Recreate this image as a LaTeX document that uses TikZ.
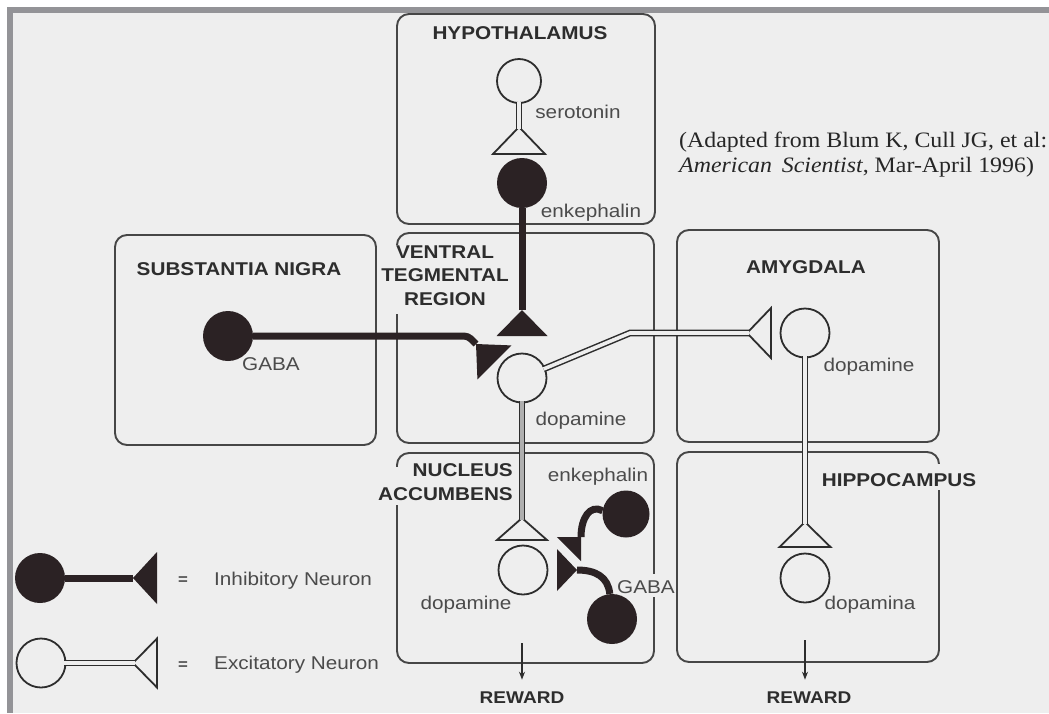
\documentclass[tikz,border=0pt]{standalone}
\usepackage{fontspec}
\usetikzlibrary{arrows.meta}
\newfontfamily\labfont[FakeStretch=1.12]{Liberation Sans}
\newfontfamily\citefont[FakeStretch=1.085]{Liberation Serif}
\definecolor{bgc}{RGB}{238,238,238}
\definecolor{framec}{RGB}{147,147,151}
\definecolor{boxc}{RGB}{70,70,70}
\definecolor{excc}{RGB}{45,45,45}
\definecolor{darkc}{RGB}{43,34,36}
\definecolor{titlec}{RGB}{45,45,45}
\definecolor{labc}{RGB}{75,75,75}
\definecolor{stemc}{RGB}{175,175,175}
\tikzset{
  pics/inhterm/.style 2 args={code={\fill[darkc] (0,0) -- (#1,#2) -- (#1,-#2) -- cycle;}},
  pics/excterm/.style 2 args={code={\draw[excc, line width=1.8pt, fill=bgc, line join=miter] (0,0) -- (#1,#2) -- (#1,-#2) -- cycle;}},
}
\begin{document}
\begin{tikzpicture}[x=1pt,y=-1pt,
  regionbox/.style={rectangle, draw=boxc, line width=1.9pt, rounded corners=12pt, inner sep=0pt},
  inh/.style={circle, fill=darkc, inner sep=0pt, minimum size=#1},
  inh/.default=50pt,
  exc/.style={circle, draw=excc, line width=1.8pt, fill=bgc, inner sep=0pt, minimum size=#1},
  exc/.default=49pt,
  inhline/.style={draw=darkc, line width=7pt},
  excline/.style={draw=excc, line width=1.5pt, double=bgc, double distance=3.6pt, shorten <=-2pt, shorten >=-2pt},
  ttl/.style={font=\labfont\bfseries\fontsize{18.5}{24}\selectfont, text=titlec, inner sep=1pt, text height=13.3pt, text depth=0pt},
  mttl/.style={font=\labfont\bfseries\fontsize{18.5}{23.5}\selectfont, text=titlec, inner sep=1pt},
  rwd/.style={font=\labfont\bfseries\fontsize{17}{20}\selectfont, text=titlec, inner sep=1pt, text height=12.2pt, text depth=0pt},
  lab/.style={font=\labfont\fontsize{18.5}{22}\selectfont, text=labc, inner sep=1pt, text height=13.3pt, text depth=0pt},
  cite/.style={font=\citefont\fontsize{22}{26}\selectfont, text=black!85, inner sep=0pt},
  rewardarrow/.style={draw=excc, line width=1.5pt, -{Stealth[length=8pt,width=6pt]}},
]
% background and frame
\useasboundingbox (0,0) rectangle (1049,713);
\fill[white] (0,0) rectangle (1049,713);
\fill[framec] (7,7) rectangle (1049,713);
\fill[bgc] (13,13) rectangle (1049,713);

% region boxes
\node[regionbox, minimum width=258pt, minimum height=210pt] (hyp) at (526,119) {};
\node[regionbox, minimum width=261pt, minimum height=210pt] (sn)  at (245.5,340) {};
\node[regionbox, minimum width=257pt, minimum height=210pt] (vta) at (525.5,338) {};
\node[regionbox, minimum width=262pt, minimum height=212pt] (amy) at (808,336) {};
\node[regionbox, minimum width=257pt, minimum height=210pt] (nac) at (525.5,558) {};
\node[regionbox, minimum width=262pt, minimum height=210pt] (hip) at (808,557) {};

% gaps in box edges behind labels
\fill[bgc] (391,245) rectangle (403,314);
\fill[bgc] (391,467) rectangle (403,505);
\fill[bgc] (933,464) rectangle (945,490);
\fill[bgc] (648,574) rectangle (660,597);

% terminal apex coordinates
\coordinate (tH)  at (519,127);
\coordinate (tV1) at (522,310);
\coordinate (bend1) at (468,336);
\coordinate (tV2) at (476,344);
\coordinate (bend2) at (630,333);
\coordinate (tA)  at (747,333);
\coordinate (tN1) at (522,518);
\coordinate (tHp) at (805,522);
\coordinate (tN2) at (581,537);
\coordinate (tN3) at (577,570);
\coordinate (tL1) at (133,578);
\coordinate (tL2) at (133,663);
\coordinate (aN) at (522,643);
\coordinate (aH) at (805,640);

% excitatory neurons (open)
\node[exc=44pt] (ser) at (519,81) {};
\node[exc] (daV) at (522,378) {};
\node[exc] (daA) at (805,333) {};
\node[exc] (daH) at (805,578) {};
\node[exc] (daN) at (523,570) {};
\node[exc] (lg2) at (41,663) {};

\pic[rotate=-90] at (tH) {excterm={27}{26}};
\pic at (tA) {excterm={24}{25}};
\pic[rotate=-90] at (tN1) {excterm={22}{25}};
\pic[rotate=-90] at (tHp) {excterm={25}{25.5}};
\pic at (tL2) {excterm={24}{24.5}};

\draw[excline] (ser) -- (tH);
\draw[excline] (daV) -- (bend2) -- (tA);
\draw[excline, double=stemc] (daV) -- (tN1);
\draw[excline] (daA) -- (tHp);
\draw[excline] (lg2) -- (tL2);

% inhibitory neurons (filled)
\node[inh] (enkH) at (522,183) {};
\node[inh] (gabaS) at (228,336) {};
\node[inh=47pt] (enkN) at (626,514) {};
\node[inh] (gabaN) at (612,619) {};
\node[inh] (lg1) at (40,578) {};

\draw[inhline] (enkH) -- (tV1);
\draw[inhline, rounded corners=4pt] (gabaS) -- (bend1) -- (tV2);
\draw[inhline] (enkN.172) .. controls (590,504) and (581,518) .. (tN2);
\draw[inhline] (gabaN.95) .. controls (608,577) and (596,570) .. (tN3);
\draw[inhline] (lg1) -- (tL1);

\pic[rotate=-90] at (tV1) {inhterm={26}{25.5}};
\pic[rotate=-45] at (tV2) {inhterm={26}{24}};
\pic[rotate=-135] at (tN2) {inhterm={17}{17}};
\pic[rotate=180] at (tN3) {inhterm={20}{21}};
\pic at (tL1) {inhterm={24}{26}};

% titles
\node[ttl] (hypT) at (520,33) {HYPOTHALAMUS};
\node[ttl] (snT) at (239,269) {SUBSTANTIA NIGRA};
\node[ttl] (amyT) at (806,267) {AMYGDALA};
\node[ttl] (hipT) at (899,480) {HIPPOCAMPUS};
\node[mttl, align=center, anchor=north] (vtaT) at (445,244.5) {VENTRAL\\TEGMENTAL\\REGION};
\node[mttl, align=right, anchor=north east] (nacT) at (514,462.5) {NUCLEUS\\ACCUMBENS};

% transmitter labels
\node[lab] (serL) at (578,112) {serotonin};
\node[lab] (enkHL) at (591,211) {enkephalin};
\node[lab] (gabaSL) at (271,364) {GABA};
\node[lab] (daVL) at (581,419) {dopamine};
\node[lab] (daAL) at (869,365) {dopamine};
\node[lab] (daHL) at (870,603) {dopamina};
\node[lab] (daNL) at (466,603) {dopamine};
\node[lab] (enkNL) at (598,475) {enkephalin};
\node[lab] (gabaNL) at (646,587) {GABA};

% reward outputs
\node[rwd] (rwN) at (522,697) {REWARD};
\node[rwd] (rwH) at (809,697) {REWARD};
\draw[rewardarrow, shorten >=10pt] (aN) -- (rwN.north);
\draw[rewardarrow, shorten >=10pt] (aH) -- (rwH.north -| aH);

% legend
\node[lab, font=\labfont\bfseries\fontsize{15}{18}\selectfont] (eq1) at (183,578) {=};
\node[lab, font=\labfont\bfseries\fontsize{15}{18}\selectfont] (eq2) at (183,663) {=};
\node[lab, anchor=west] (inhL) at (213,579) {Inhibitory Neuron};
\node[lab, anchor=west] (excL) at (213,663) {Excitatory Neuron};

% citation
\node[cite, anchor=base west] (cite1) at (679,147) {(Adapted from Blum K, Cull JG, et al:};
\node[cite, anchor=base west] (cite2) at (679,172) {\itshape American\hspace{0.45em}Scientist\upshape, Mar-April 1996)};
\end{tikzpicture}
\end{document}
